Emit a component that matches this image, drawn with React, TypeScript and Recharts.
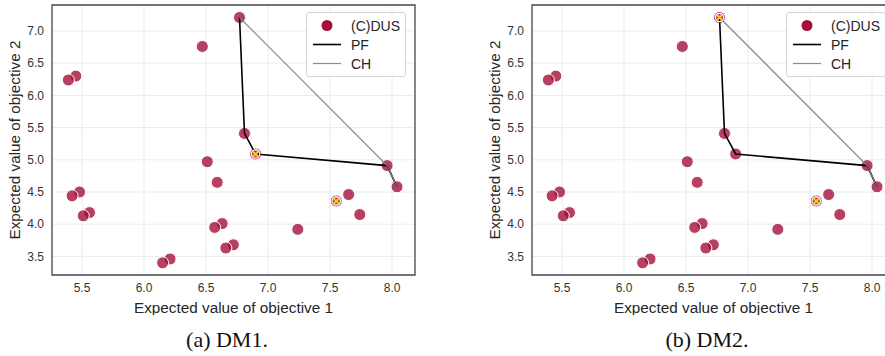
import React from "react";
import {
  ScatterChart,
  Scatter,
  XAxis,
  YAxis,
  CartesianGrid,
  ReferenceArea,
  Legend,
} from "recharts";

// solution values (expected value of objective 1 / objective 2)
const SOL_X = [6.77, 6.47, 5.45, 5.39, 6.81, 6.9, 6.51, 7.96, 8.04, 6.59, 5.48, 5.42, 7.65, 7.55, 7.74, 5.56, 5.51, 6.63, 6.57, 7.24, 6.72, 6.66, 6.21, 6.15];
const SOL_Y = [7.21, 6.76, 6.3, 6.24, 5.41, 5.09, 4.97, 4.91, 4.58, 4.65, 4.5, 4.44, 4.46, 4.36, 4.15, 4.18, 4.13, 4.01, 3.95, 3.92, 3.68, 3.63, 3.46, 3.4];

const PF_X = [6.77, 6.81, 6.9, 7.96, 8.04];
const PF_Y = [7.21, 5.41, 5.09, 4.91, 4.58];

const CH_X = [6.77, 7.96, 8.04];
const CH_Y = [7.21, 4.91, 4.58];

const DM1_X = [6.9, 7.55];
const DM1_Y = [5.09, 4.36];
const DM2_X = [6.77, 7.55];
const DM2_Y = [7.21, 4.36];

const X_TICKS = [5.5, 6.0, 6.5, 7.0, 7.5, 8.0];
const Y_TICKS = [3.5, 4.0, 4.5, 5.0, 5.5, 6.0, 6.5, 7.0];
const X_DOMAIN = [5.258, 8.185];
const Y_DOMAIN = [3.211, 7.404];

const CRIMSON = "#a50f3a";
const FONT = '"Liberation Sans", Arial, sans-serif';

const zip = (xs: number[], ys: number[]) => xs.map((x, i) => ({ x, y: ys[i] }));

const solutions = zip(SOL_X, SOL_Y);
const pf = zip(PF_X, PF_Y);
const ch = zip(CH_X, CH_Y);

const Dot = ({ cx, cy }: any) => (
  <circle cx={cx} cy={cy} r={6} fill={CRIMSON} fillOpacity={0.8} stroke="#fff" strokeWidth={1} />
);

const Highlight = ({ cx, cy }: any) => (
  <g>
    <circle cx={cx} cy={cy} r={4.2} fill="none" stroke="#fff" strokeWidth={1.2} />
    <line x1={cx - 2.5} y1={cy - 2.5} x2={cx + 2.5} y2={cy + 2.5} stroke="#f2d21b" strokeWidth={1.8} />
    <line x1={cx - 2.5} y1={cy + 2.5} x2={cx + 2.5} y2={cy - 2.5} stroke="#f2d21b" strokeWidth={1.8} />
  </g>
);

const Empty = () => <g />;

const LegendBox = () => (
  <div
    style={{
      border: "1px solid #d6d6d6",
      borderRadius: 3,
      background: "rgba(255,255,255,0.85)",
      padding: "3px 0",
      fontFamily: FONT,
      fontSize: 14,
      color: "#262626",
      width: 100,
      boxSizing: "border-box",
    }}
  >
    {[
      { name: "(C)DUS", kind: "dot" },
      { name: "PF", kind: "pf" },
      { name: "CH", kind: "ch" },
    ].map((item) => (
      <div key={item.name} style={{ display: "flex", alignItems: "center", height: 19 }}>
        <svg width={44} height={19} style={{ flexShrink: 0 }}>
          {item.kind === "dot" && <circle cx={20} cy={9.5} r={5.5} fill={CRIMSON} />}
          {item.kind === "pf" && <line x1={6} x2={34} y1={9.5} y2={9.5} stroke="#000" strokeWidth={1.6} />}
          {item.kind === "ch" && <line x1={6} x2={34} y1={9.5} y2={9.5} stroke="#8c8c8c" strokeWidth={1.2} />}
        </svg>
        <span>{item.name}</span>
      </div>
    ))}
  </div>
);

function Panel({ hx, hy }: { hx: number[]; hy: number[] }) {
  const highlight = zip(hx, hy);
  return (
    <ScatterChart width={420} height={315} margin={{ top: 5, right: 5, bottom: 0, left: 0 }} style={{ fontFamily: FONT }}>
      <CartesianGrid stroke="#ebebeb" strokeWidth={1} />
      <XAxis
        type="number"
        dataKey="x"
        domain={X_DOMAIN}
        ticks={X_TICKS}
        allowDataOverflow
        height={40}
        tickFormatter={(v: number) => v.toFixed(1)}
        tick={{ fill: "#333", fontSize: 12 }}
        tickLine={false}
        axisLine={false}
        label={{
          value: "Expected value of objective 1",
          position: "insideBottom",
          offset: 2,
          style: { fontSize: 15.3, fill: "#262626" },
        }}
      />
      <YAxis
        type="number"
        dataKey="y"
        domain={Y_DOMAIN}
        ticks={Y_TICKS}
        allowDataOverflow
        width={52}
        tickFormatter={(v: number) => v.toFixed(1)}
        tick={{ fill: "#333", fontSize: 12 }}
        tickLine={false}
        axisLine={false}
        label={{
          value: "Expected value of objective 2",
          angle: -90,
          position: "insideLeft",
          offset: 15,
          style: { fontSize: 15.3, fill: "#262626", textAnchor: "middle" },
        }}
      />
      <Scatter data={solutions} shape={<Dot />} isAnimationActive={false} />
      <Scatter data={pf} shape={<Empty />} line={{ stroke: "#000", strokeWidth: 1.6 }} isAnimationActive={false} />
      <Scatter data={ch} shape={<Empty />} line={{ stroke: "#808080", strokeWidth: 1.1 }} isAnimationActive={false} />
      <Scatter data={highlight} shape={<Highlight />} isAnimationActive={false} />
      <ReferenceArea
        x1={X_DOMAIN[0]}
        x2={X_DOMAIN[1]}
        y1={Y_DOMAIN[0]}
        y2={Y_DOMAIN[1]}
        fill="none"
        stroke="#4a4a4a"
        strokeWidth={1.3}
        ifOverflow="visible"
      />
      <Legend
        layout="vertical"
        align="center"
        verticalAlign="middle"
        content={<LegendBox />}
        wrapperStyle={{ position: "absolute", left: 306, top: 12, width: 100 }}
      />
    </ScatterChart>
  );
}

const captionStyle: React.CSSProperties = {
  position: "absolute",
  top: 327,
  width: 200,
  textAlign: "center",
  fontFamily: '"Liberation Serif", "Times New Roman", serif',
  fontSize: 22,
  color: "#111",
  lineHeight: "26px",
};

export default function App() {
  return (
    <div
      style={{
        position: "fixed",
        left: 0,
        top: 0,
        width: 885,
        height: 356,
        overflow: "hidden",
        background: "#fff",
      }}
    >
      <div style={{ position: "absolute", left: 0, top: 0 }}>
        <Panel hx={DM1_X} hy={DM1_Y} />
      </div>
      <div style={{ position: "absolute", left: 480, top: 0 }}>
        <Panel hx={DM2_X} hy={DM2_Y} />
      </div>
      <div style={{ ...captionStyle, left: 127 }}>(a) DM1.</div>
      <div style={{ ...captionStyle, left: 607 }}>(b) DM2.</div>
    </div>
  );
}
